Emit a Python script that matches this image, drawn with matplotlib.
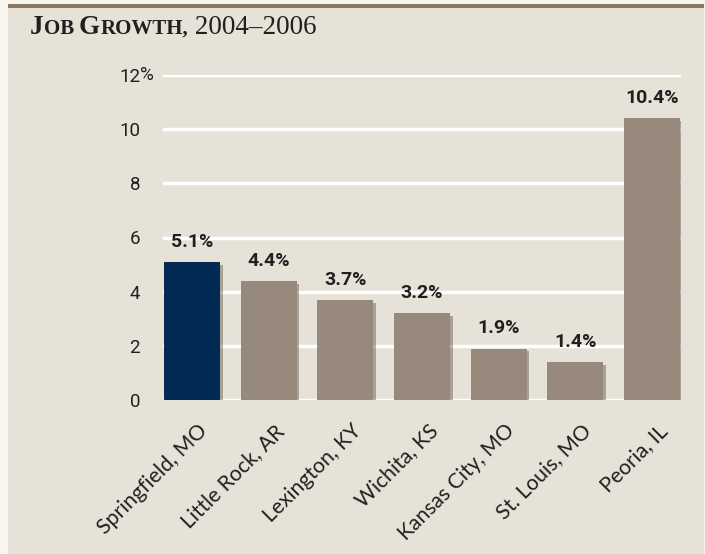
import matplotlib
matplotlib.use("Agg")
import matplotlib.pyplot as plt
import matplotlib.patheffects as pe
import matplotlib.transforms as mtrans
from matplotlib.patches import Rectangle

cities = ["Springfield, MO", "Little Rock, AR", "Lexington, KY", "Wichita, KS",
          "Kansas City, MO", "St. Louis, MO", "Peoria, IL"]
growth = [5.1, 4.4, 3.7, 3.2, 1.9, 1.4, 10.4]
value_labels = ["5.1%", "4.4%", "3.7%", "3.2%", "1.9%", "1.4%", "10.4%"]
yticks = [0, 2, 4, 6, 8, 10, 12]
ytick_labels = ["0", "2", "4", "6", "8", "10", "12"]

W, H = 705, 554
fig = plt.figure(figsize=(W / 100, H / 100), dpi=100)
fig.patch.set_facecolor("#f8f5ef")

# panel background and top rule
fig.patches.append(Rectangle((8 / W, 0), (W - 9) / W, 1 - 7 / H, transform=fig.transFigure,
                             facecolor="#e6e2d8", edgecolor="none", zorder=-10))
fig.patches.append(Rectangle((8 / W, 1 - 7.5 / H), (W - 9) / W, 3.5 / H, transform=fig.transFigure,
                             facecolor="#8b7660", edgecolor="none", zorder=-9))

cond = ["Roboto", "DejaVu Sans"]
ax = fig.add_axes([163 / W, 1 - 400 / H, 518 / W, 325 / H])
ax.set_facecolor("none")
ax.set_xlim(-0.38, 6.38)
ax.set_ylim(0, 12)
for s in ax.spines.values():
    s.set_visible(False)
ax.set_yticks(yticks)
ax.set_yticklabels(ytick_labels, fontfamily=cond, fontsize=13.5, color="#231f20")
ax.tick_params(axis="y", length=0, pad=16.5)
ax.yaxis.grid(True, color="white", linewidth=2.5)
ax.set_axisbelow(True)
# percent sign hanging to the right of the top tick label
ax.annotate("%", xy=(0, yticks[-1]), xycoords=ax.get_yaxis_transform(),
            xytext=(-16.6, 0), textcoords="offset points", ha="left", va="center",
            fontfamily=cond, fontsize=13.5, color="#231f20")

colors = ["#032a52"] + ["#978a7d"] * (len(cities) - 1)
x = list(range(len(cities)))
bars = ax.bar(x, growth, width=0.73, color=colors, zorder=2)
for b in bars:
    b.set_path_effects([pe.SimplePatchShadow(offset=(2, -2), shadow_rgbFace="#4a4038", alpha=0.4), pe.Normal()])

for xi, v, lab in zip(x, growth, value_labels):
    ax.annotate(lab, (xi, v), xytext=(0, 8), textcoords="offset points", ha="center", va="bottom",
                fontfamily=cond, fontweight="bold", fontsize=14, color="#231f20")

ax.set_xticks(x)
ax.set_xticklabels(cities, rotation=45, ha="right", rotation_mode="anchor",
                   fontfamily=["Lato", "DejaVu Sans"], fontsize=15.2, color="#231f20")
ax.tick_params(axis="x", length=0, pad=15)
off = mtrans.ScaledTranslation(4 / 72, 0, fig.dpi_scale_trans)
for lbl in ax.get_xticklabels():
    lbl.set_transform(lbl.get_transform() + off)

# title with small caps
serif = ["Liberation Serif", "DejaVu Serif"]
pieces = [("J", 19.5, "bold"), ("OB ", 15, "bold"), ("G", 19.5, "bold"), ("ROWTH,", 15, "bold"),
          (" 2004\u20132006", 19.5, "normal")]
fig.canvas.draw()
r = fig.canvas.get_renderer()
xpos = 30
for txt, sz, wt in pieces:
    t = fig.text(xpos / W, 1 - 34 / H, txt, fontfamily=serif, fontsize=sz, fontweight=wt,
                 color="#231f20", ha="left", va="baseline")
    bb = t.get_window_extent(renderer=r)
    xpos += bb.width

fig.savefig("out.png", dpi=100, facecolor=fig.get_facecolor())
